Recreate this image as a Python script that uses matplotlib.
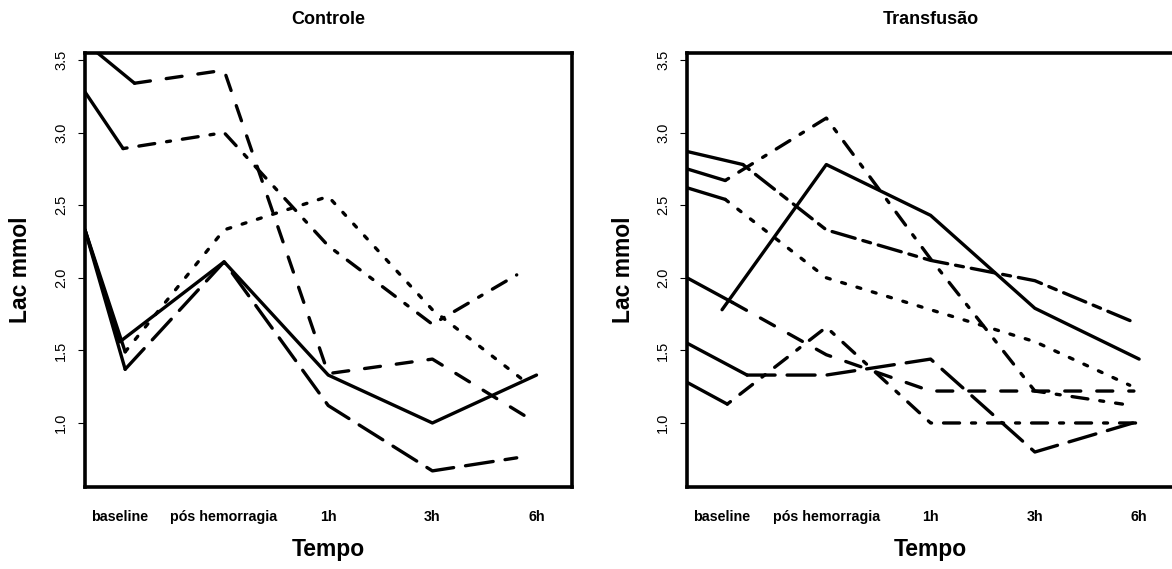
import matplotlib.pyplot as plt

plt.rcParams['font.family'] = ['Liberation Sans', 'DejaVu Sans']
plt.rcParams['lines.scale_dashes'] = False

# eixos
tempos = ['baseline', 'pós hemorragia', '1h', '3h', '6h']
yticks = [1.0, 1.5, 2.0, 2.5, 3.0, 3.5]
yticklabels = ['1.0', '1.5', '2.0', '2.5', '3.0', '3.5']

# Controle
ctl_estilo = ['dashed', 'dotdash', 'solid', 'dotted', 'longdash']
ctl_inicio = [3.62, 3.28, 2.33, 2.33, 2.33]   # valor na borda esquerda (trecho continuo)
ctl_x_base = [1.14, 1.03, 1.00, 1.05, 1.05]
ctl_base = [3.34, 2.89, 1.56, 1.49, 1.37]
ctl_pos = [3.43, 3.00, 2.11, 2.33, 2.11]
ctl_1h = [1.34, 2.22, 1.33, 2.56, 1.12]
ctl_3h = [1.44, 1.68, 1.00, 1.78, 0.67]
ctl_6h = [1.00, 2.02, 1.33, 1.28, 0.76]
ctl_x_6h = [5.00, 4.81, 5.00, 4.90, 4.81]

# Transfusao
trf_estilo = ['twodash', 'dotdash', 'dotted', 'dashed', 'longdash', 'dotdash', 'solid']
trf_inicio = [2.87, 2.75, 2.62, 2.00, 1.55, 1.28, None]
trf_x_base = [1.20, 1.03, 1.03, 1.10, 1.24, 1.05, 1.00]
trf_base = [2.78, 2.67, 2.54, 1.83, 1.33, 1.13, 1.78]
trf_pos = [2.33, 3.10, 2.00, 1.47, 1.33, 1.66, 2.78]
trf_1h = [2.12, 2.13, 1.78, 1.22, 1.44, 1.00, 2.43]
trf_3h = [1.98, 1.22, 1.56, 1.22, 0.80, 1.00, 1.79]
trf_6h = [1.70, 1.13, 1.26, 1.22, 1.00, 1.00, 1.44]
trf_x_6h = [4.93, 4.84, 4.91, 4.95, 4.94, 4.98, 5.00]

# padroes lty do R (em unidades de lwd)
lty = {'dashed': (4, 4), 'dotted': (1, 3), 'dotdash': (1, 3, 4, 3),
       'longdash': (7, 3), 'twodash': (2, 2, 6, 2)}
LW = 2.4
UNIT = 2.88
XLIM = (0.664, 5.34)
YLIM = (0.559, 3.548)


def estilo_linha(nome):
	if nome == 'solid':
		return '-'
	return (0, tuple(u * UNIT for u in lty[nome]))


def painel(ax, titulo, estilo, inicio, x_base, base, pos, h1, h3, h6, x_6h):
	for i in range(len(estilo)):
		if inicio[i] is not None:
			ax.plot([XLIM[0], x_base[i]], [inicio[i], base[i]], color='black',
			        lw=LW, solid_capstyle='round')
		xs = [x_base[i], 2, 3, 4, x_6h[i]]
		ys = [base[i], pos[i], h1[i], h3[i], h6[i]]
		ax.plot(xs, ys, color='black', lw=LW, linestyle=estilo_linha(estilo[i]),
		        dash_capstyle='round', solid_capstyle='round',
		        dash_joinstyle='round', solid_joinstyle='round')
	ax.set_xlim(XLIM)
	ax.set_ylim(YLIM)
	ax.set_xticks(range(1, len(tempos) + 1))
	ax.set_xticklabels(tempos, fontweight='bold', fontsize=10.3)
	ax.set_yticks(yticks)
	ax.set_yticklabels(yticklabels, fontsize=10.5, rotation=90, va='center')
	ax.tick_params(axis='x', length=0, pad=16.5)
	ax.tick_params(axis='y', length=5, width=0.8, pad=7)
	for s in ax.spines.values():
		s.set_linewidth(2.6)
		s.set_capstyle('projecting')
	ax.set_title(titulo, fontweight='bold', fontsize=13, pad=21)
	ax.annotate('Lac mmol', xy=(0, 0.5), xycoords='axes fraction',
	            xytext=(-64 * 0.72, 0), textcoords='offset points',
	            rotation=90, ha='center', va='center', fontsize=16.5,
	            fontweight='bold')
	ax.annotate('Tempo', xy=(0.5, 0), xycoords='axes fraction',
	            xytext=(0, -62 * 0.72), textcoords='offset points',
	            ha='center', va='center', fontsize=16.5, fontweight='bold')


fig = plt.figure(figsize=(11.72, 5.69), dpi=100)
ax1 = fig.add_axes([0.0725, 0.1441, 0.4155, 0.7627])
ax2 = fig.add_axes([0.5862, 0.1441, 0.4160, 0.7627])

painel(ax1, 'Controle', ctl_estilo, ctl_inicio, ctl_x_base, ctl_base,
       ctl_pos, ctl_1h, ctl_3h, ctl_6h, ctl_x_6h)
painel(ax2, 'Transfusão', trf_estilo, trf_inicio, trf_x_base, trf_base,
       trf_pos, trf_1h, trf_3h, trf_6h, trf_x_6h)

fig.savefig('out.png', dpi=100)
